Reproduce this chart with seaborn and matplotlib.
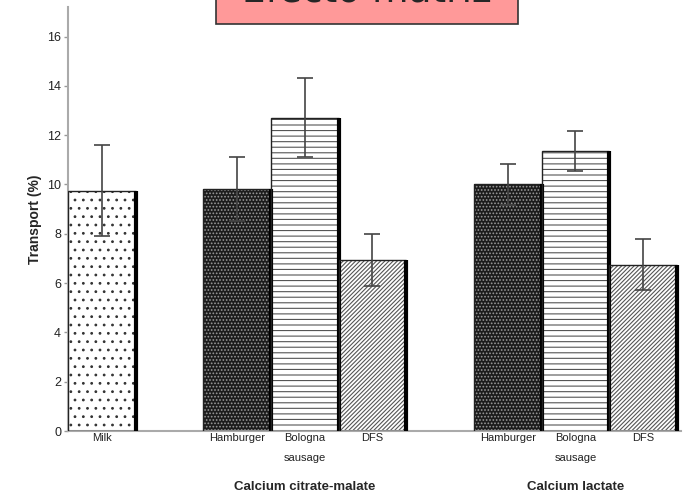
import matplotlib
matplotlib.use("Agg")
import matplotlib.pyplot as plt
import seaborn as sns
import pandas as pd
from matplotlib.patches import Rectangle

# ---- data ----
positions = [0, 2, 3, 4, 6, 7, 8]
tick_labels = ["Milk", "Hamburger", "Bologna\nsausage", "DFS",
               "Hamburger", "Bologna\nsausage", "DFS"]
matrix = ["Milk", "Hamburger", "Bologna", "DFS", "Hamburger", "Bologna", "DFS"]
transport = [9.75, 9.8, 12.7, 6.95, 10.0, 11.35, 6.75]
errors = [1.85, 1.3, 1.6, 1.05, 0.85, 0.8, 1.05]
group_labels = ["Calcium citrate-malate", "Calcium lactate"]
group_centers = [3, 7]
title = " Efecto matriz "

df = pd.DataFrame({"pos": positions, "transport": transport, "matrix": matrix})

sns.set_style("white")
plt.rcParams["font.family"] = ["Liberation Sans", "DejaVu Sans"]
plt.rcParams["hatch.linewidth"] = 0.8

fig = plt.figure(figsize=(6.85, 4.93), dpi=100)
ax = fig.add_axes([68 / 685, 62 / 493, (681 - 68) / 685, (486 - 62) / 493])

sns.barplot(data=df, x="pos", y="transport", native_scale=True, width=1.0,
            color="white", errorbar=None, ax=ax, zorder=2)

styles = {
    "Milk": dict(face="white", hatch="..", hc="#333333"),
    "Hamburger": dict(face="#1c1c1c", hatch=".....", hc="#9a9a9a"),
    "Bologna": dict(face="white", hatch="---", hc="#555555"),
    "DFS": dict(face="white", hatch="////////", hc="#555555"),
}

for patch, m in zip(ax.patches, matrix):
    st = styles[m]
    patch.set_facecolor(st["face"])
    patch.set_edgecolor(st["hc"])
    patch.set_hatch(st["hatch"])
    patch.set_linewidth(0)
    x0, y0 = patch.get_x(), patch.get_y()
    w, h = patch.get_width(), patch.get_height()
    ax.add_patch(Rectangle((x0, y0), w, h, fill=False, edgecolor="#222222",
                           linewidth=1.0, zorder=3))
    ax.plot([x0 + w, x0 + w], [y0, y0 + h], color="black", lw=3.0,
            solid_capstyle="butt", zorder=3)

ax.errorbar(positions, transport, yerr=errors, fmt="none", ecolor="#444444",
            elinewidth=1.2, capsize=5.5, capthick=1.2, zorder=4)

ax.set_xlim(-0.5, 8.56)
ax.set_ylim(0, 17.2)
ax.set_yticks(range(0, 17, 2))
ax.set_xticks(positions)
ax.set_xticklabels(tick_labels, fontsize=8, color="#222222", linespacing=2.2)
ax.tick_params(axis="y", labelsize=9, colors="#222222", length=3,
               color="#999999", direction="out", left=True, width=1, pad=2)
ax.tick_params(axis="x", length=0, pad=1.5)
ax.set_xlabel("")
ax.set_ylabel("Transport (%)", fontsize=10, fontweight="bold", labelpad=4)

for side in ["top", "right"]:
    ax.spines[side].set_visible(False)
for side in ["left", "bottom"]:
    ax.spines[side].set_color("#aaaaaa")
    ax.spines[side].set_linewidth(1.5)

for lab, c in zip(group_labels, group_centers):
    ax.text(c, -0.133, lab, transform=ax.get_xaxis_transform(),
            ha="center", va="center", fontsize=9.5, fontweight="bold")

fig.text(367 / 685, 1 - 2 / 493, title, ha="center", va="baseline",
         fontsize=27, fontfamily="DejaVu Sans",
         bbox=dict(boxstyle="square,pad=0.37", facecolor="#ff9999",
                   edgecolor="#333333", linewidth=1.2))

fig.savefig("out.png", dpi=100)
